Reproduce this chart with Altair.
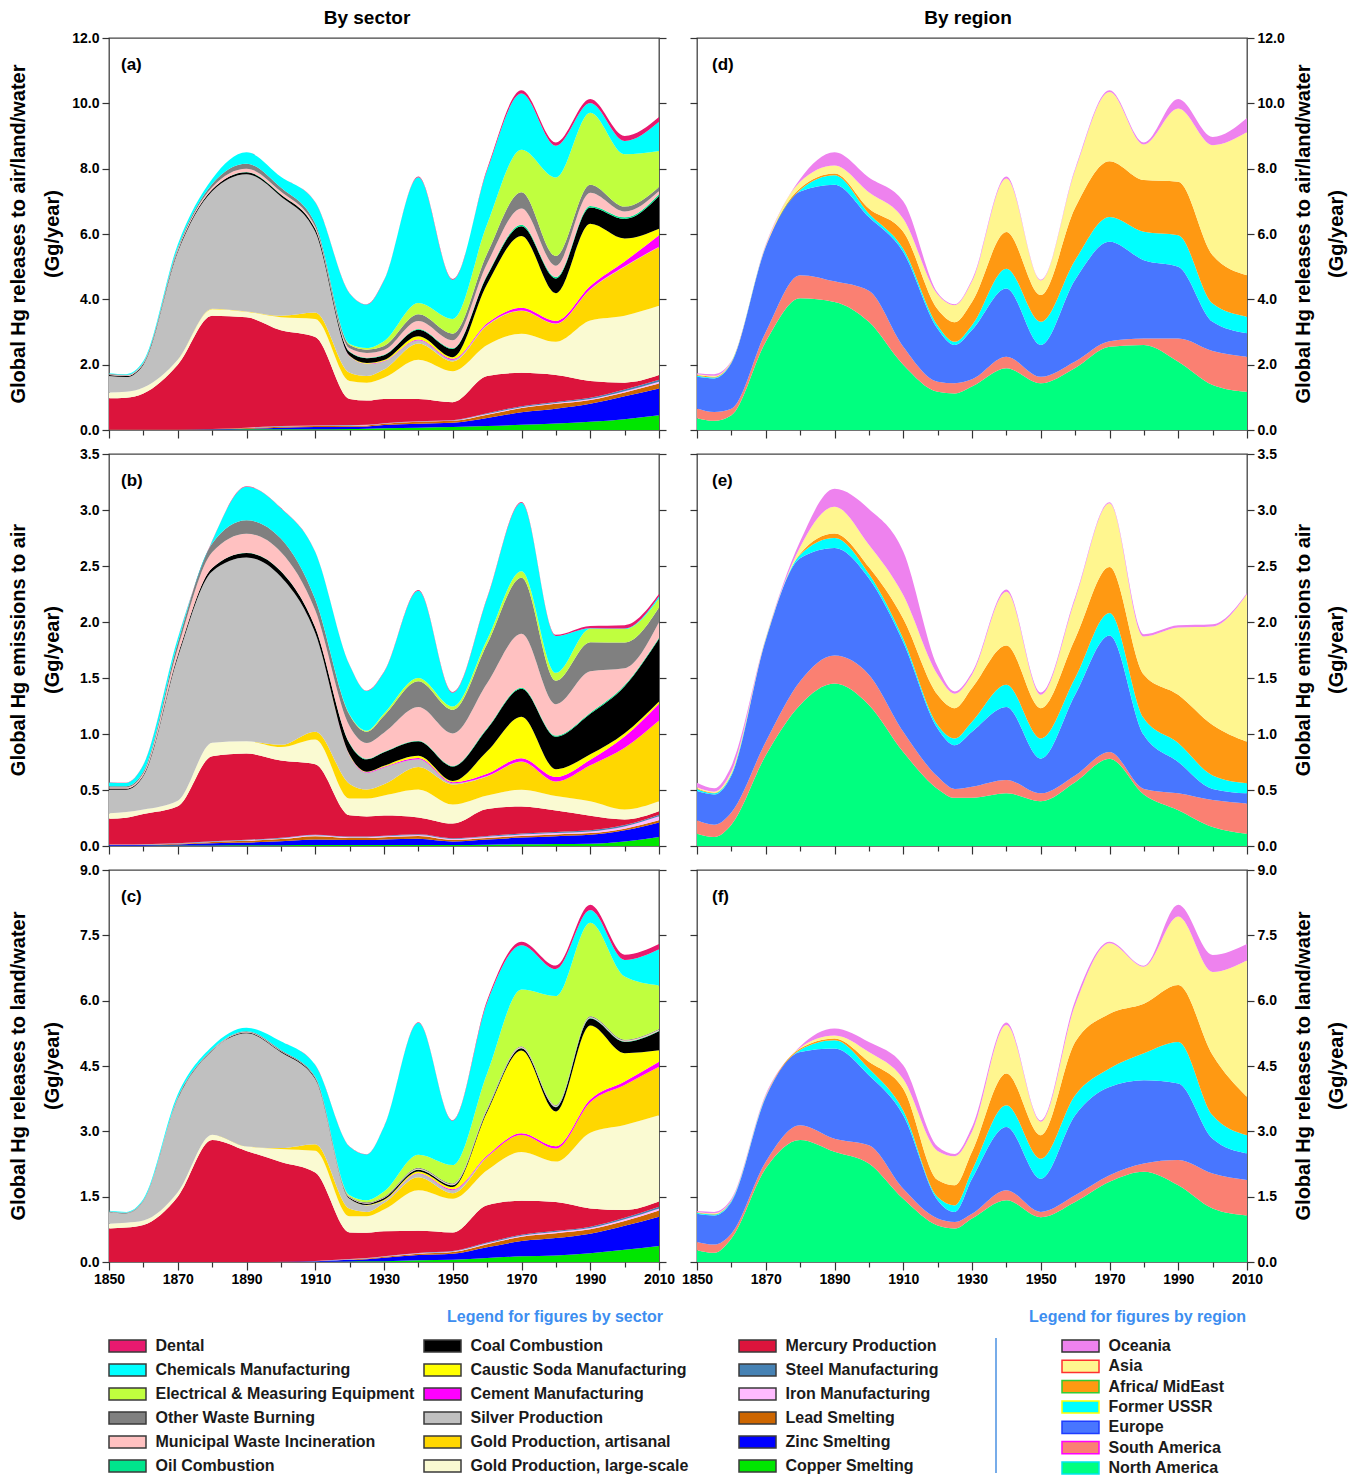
import altair as alt
import pandas as pd

FONT = "Liberation Sans"
YEARS = [1850, 1855, 1860, 1870, 1880, 1890, 1900, 1910, 1920, 1925, 1930,
         1940, 1950, 1960, 1970, 1980, 1990, 2000, 2010]

# ---- sector names (bottom of stack first) and colours ----
SECTORS = ["Copper Smelting", "Zinc Smelting", "Lead Smelting", "Iron Manufacturing",
           "Steel Manufacturing", "Mercury Production", "Gold Production, large-scale",
           "Gold Production, artisanal", "Silver Production", "Cement Manufacturing",
           "Caustic Soda Manufacturing", "Coal Combustion", "Oil Combustion",
           "Municipal Waste Incineration", "Other Waste Burning",
           "Electrical & Measuring Equipment", "Chemicals Manufacturing", "Dental"]
SECTOR_COLORS = ["#00e600", "#0000ff", "#cd6600", "#ffbbff", "#4682b4", "#dc143c",
                 "#fafad2", "#ffd700", "#c0c0c0", "#ff00ff", "#ffff00", "#000000",
                 "#00e58c", "#ffc1c1", "#808080", "#c0ff3e", "#00ffff", "#e8196f"]

# ---- region names (bottom of stack first) and colours ----
REGIONS = ["North America", "South America", "Europe", "Former USSR",
           "Africa/ MidEast", "Asia", "Oceania"]
REGION_COLORS = ["#00ff7f", "#fa8072", "#4876ff", "#00ffff", "#ff9912", "#fff68f", "#ee82ee"]
REGION_BORDERS = ["#00e5ee", "#ff00ff", "#1e3cff", "#ffff00", "#33cc33", "#ff3030", "#333333"]

# ---- panel (a): releases to air/land/water by sector (Gg/yr) ----
copper_a = [0.01,0.01,0.01,0.01,0.01,0.02,0.02,0.02,0.03,0.04,0.05,0.07,0.09,0.12,0.16,0.2,0.25,0.33,0.45]
zinc_a = [0,0,0,0,0.01,0.02,0.05,0.07,0.07,0.07,0.1,0.12,0.13,0.25,0.38,0.45,0.55,0.7,0.82]
lead_a = [0,0,0,0,0.01,0.02,0.03,0.03,0.03,0.03,0.04,0.06,0.06,0.1,0.13,0.15,0.12,0.12,0.15]
iron_a = [0,0,0,0,0,0.01,0.01,0.01,0.01,0.01,0.01,0.01,0.01,0.02,0.03,0.03,0.03,0.04,0.06]
steel_a = [0,0,0,0,0,0,0.01,0.01,0.01,0.01,0.01,0.01,0.01,0.02,0.03,0.03,0.04,0.05,0.06]
mercury_a = [0.96,0.98,1.11,1.99,3.47,3.38,2.93,2.71,0.8,0.74,0.74,0.68,0.55,1.14,1.02,0.82,0.51,0.21,0.14]
goldls_a = [0.18,0.18,0.18,0.15,0.2,0.17,0.4,0.55,0.55,0.55,0.65,1.2,0.95,0.95,1.2,1.02,1.85,2.05,2.12]
goldart_a = [0,0,0,0,0.01,0.01,0.05,0.2,0.25,0.2,0.25,0.5,0.3,0.6,0.7,0.55,0.95,1.5,1.8]
silver_a = [0.5,0.45,0.7,3.3,3.6,4.2,3.65,2.47,0.5,0.37,0.25,0.1,0.05,0.02,0.01,0.01,0.01,0.01,0.01]
cement_a = [0,0,0,0,0,0,0,0,0.01,0.01,0.01,0.02,0.03,0.05,0.08,0.08,0.1,0.15,0.35]
caustic_a = [0,0,0,0,0,0,0,0,0.01,0.02,0.03,0.1,0.05,1.2,2.2,0.85,1.9,0.7,0.2]
coal_a = [0.03,0.03,0.03,0.04,0.05,0.06,0.06,0.08,0.12,0.15,0.15,0.2,0.25,0.25,0.3,0.45,0.5,0.6,1.0]
oil_a = [0,0,0,0,0,0.01,0.01,0.01,0.01,0.01,0.01,0.02,0.02,0.03,0.04,0.04,0.05,0.05,0.06]
municipal_a = [0.02,0.02,0.02,0.04,0.07,0.1,0.08,0.06,0.1,0.15,0.15,0.25,0.25,0.35,0.5,0.35,0.4,0.18,0.1]
otherwaste_a = [0.02,0.02,0.02,0.05,0.1,0.15,0.12,0.1,0.1,0.1,0.12,0.2,0.2,0.3,0.5,0.3,0.25,0.15,0.12]
electrical_a = [0,0,0,0,0,0,0,0,0.03,0.05,0.15,0.35,0.45,0.9,1.3,2.4,2.2,1.6,1.1]
chemicals_a = [0.02,0.02,0.04,0.1,0.15,0.35,0.33,0.65,1.55,1.33,1.86,3.85,1.2,1.65,1.72,0.97,0.3,0.41,0.9]
dental_a = [0,0,0,0,0,0,0,0.01,0.01,0.01,0.01,0.02,0.02,0.05,0.1,0.1,0.12,0.15,0.14]

# ---- panel (b): emissions to air by sector ----
copper_b = [0.003,0.003,0.003,0.004,0.005,0.006,0.007,0.008,0.008,0.008,0.009,0.01,0.01,0.012,0.015,0.018,0.02,0.04,0.08]
zinc_b = [0.005,0.005,0.006,0.01,0.02,0.025,0.035,0.05,0.045,0.045,0.05,0.055,0.03,0.045,0.06,0.07,0.08,0.1,0.13]
lead_b = [0.002,0.002,0.003,0.005,0.01,0.015,0.02,0.03,0.02,0.02,0.02,0.025,0.015,0.015,0.015,0.015,0.015,0.015,0.02]
iron_b = [0.002,0.002,0.002,0.003,0.004,0.005,0.006,0.007,0.006,0.006,0.007,0.008,0.008,0.01,0.012,0.013,0.015,0.02,0.035]
steel_b = [0.001,0.001,0.001,0.002,0.003,0.004,0.005,0.006,0.005,0.005,0.006,0.007,0.007,0.008,0.01,0.01,0.01,0.012,0.015]
mercury_b = [0.23,0.24,0.27,0.33,0.76,0.77,0.69,0.63,0.19,0.18,0.18,0.15,0.13,0.24,0.24,0.19,0.13,0.05,0.03]
goldls_b = [0.05,0.05,0.04,0.05,0.12,0.11,0.12,0.22,0.15,0.16,0.18,0.25,0.17,0.12,0.15,0.13,0.13,0.09,0.09]
goldart_b = [0,0,0,0,0,0,0.02,0.07,0.13,0.08,0.1,0.2,0.18,0.17,0.25,0.13,0.32,0.55,0.72]
silver_b = [0.21,0.2,0.3,1.28,1.53,1.64,1.5,0.88,0.25,0.15,0.15,0.07,0.01,0.005,0.002,0,0,0,0]
cement_b = [0,0,0,0,0,0,0,0,0.005,0.005,0.005,0.01,0.01,0.02,0.03,0.04,0.05,0.1,0.15]
caustic_b = [0,0,0,0,0,0,0,0,0.005,0.005,0.01,0.02,0.01,0.2,0.37,0.07,0.05,0.03,0.02]
coal_b = [0.01,0.01,0.01,0.02,0.03,0.04,0.05,0.05,0.1,0.11,0.12,0.13,0.13,0.2,0.25,0.29,0.36,0.42,0.56]
oil_b = [0,0,0,0,0,0.003,0.003,0.003,0.005,0.005,0.005,0.005,0.005,0.008,0.01,0.01,0.01,0.01,0.01]
municipal_b = [0.01,0.01,0.015,0.06,0.14,0.17,0.17,0.15,0.15,0.14,0.17,0.3,0.29,0.4,0.48,0.28,0.37,0.15,0.14]
otherwaste_b = [0.01,0.01,0.015,0.05,0.08,0.12,0.12,0.1,0.1,0.1,0.15,0.23,0.21,0.35,0.5,0.21,0.26,0.23,0.13]
electrical_b = [0,0,0,0,0,0,0,0,0.005,0.01,0.02,0.03,0.03,0.04,0.06,0.07,0.12,0.12,0.08]
chemicals_b = [0.035,0.03,0.06,0.04,0.02,0.3,0.27,0.42,0.44,0.355,0.37,0.78,0.125,0.37,0.61,0.33,0.005,0.005,0.02]
dental_b = [0.002,0.002,0.002,0.002,0.003,0.003,0.003,0.003,0.003,0.003,0.003,0.005,0.005,0.005,0.008,0.01,0.02,0.03,0.02]

# ---- panel (c): releases to land/water by sector ----
copper_c = [0,0,0,0,0,0,0,0.005,0.01,0.015,0.02,0.04,0.05,0.09,0.13,0.15,0.2,0.28,0.37]
zinc_c = [0,0,0,0,0,0,0.005,0.01,0.04,0.05,0.08,0.12,0.14,0.25,0.35,0.4,0.45,0.55,0.67]
lead_c = [0,0,0,0,0,0,0.002,0.005,0.01,0.015,0.02,0.03,0.04,0.07,0.1,0.11,0.1,0.11,0.14]
iron_c = [0,0,0,0,0,0,0,0.002,0.005,0.005,0.008,0.01,0.01,0.02,0.025,0.03,0.03,0.04,0.05]
steel_c = [0,0,0,0,0,0,0,0.002,0.005,0.005,0.006,0.008,0.01,0.015,0.02,0.025,0.03,0.035,0.04]
mercury_c = [0.77,0.79,0.85,1.5,2.8,2.55,2.29,2.03,0.61,0.58,0.57,0.51,0.43,0.86,0.78,0.66,0.42,0.18,0.12]
goldls_c = [0.11,0.11,0.1,0.1,0.12,0.1,0.3,0.5,0.37,0.38,0.5,0.93,0.77,0.8,1.12,0.93,1.74,1.95,1.98]
goldart_c = [0,0,0,0,0,0,0.02,0.15,0.17,0.1,0.15,0.3,0.13,0.3,0.39,0.3,0.7,0.92,1.11]
silver_c = [0.27,0.22,0.45,2.15,1.93,2.6,2.2,1.5,0.23,0.15,0.05,0.08,0.07,0.01,0,0,0,0,0]
cement_c = [0,0,0,0,0,0,0,0,0,0,0.005,0.01,0.02,0.03,0.04,0.05,0.06,0.08,0.12]
caustic_c = [0,0,0,0,0,0,0,0,0.005,0.01,0.02,0.04,0.05,1.0,1.9,0.8,1.7,0.65,0.26]
coal_c = [0.005,0.005,0.005,0.01,0.01,0.02,0.02,0.02,0.02,0.03,0.04,0.04,0.04,0.04,0.05,0.1,0.16,0.26,0.44]
oil_c = [0,0,0,0,0,0,0,0,0,0,0,0.005,0.005,0.005,0.01,0.01,0.01,0.01,0.01]
municipal_c = [0.005,0.005,0.005,0.01,0.01,0.01,0.01,0.01,0.01,0.01,0.01,0.02,0.02,0.02,0.02,0.02,0.02,0.02,0.02]
otherwaste_c = [0.005,0.005,0.005,0.01,0.01,0.02,0.02,0.02,0.02,0.02,0.02,0.02,0.02,0.02,0.02,0.02,0.02,0.02,0.02]
electrical_c = [0,0,0,0,0,0,0,0,0.03,0.05,0.12,0.3,0.42,0.8,1.3,2.5,2.15,1.45,1.0]
chemicals_c = [0.01,0.015,0.03,0.07,0.07,0.08,0.2,0.27,1.11,1.05,1.485,3.03,1.02,1.63,1.02,0.62,0.29,0.38,0.83]
dental_c = [0,0,0,0,0,0,0,0.005,0.005,0.005,0.005,0.01,0.01,0.05,0.08,0.08,0.12,0.12,0.12]

# ---- panel (d): releases to air/land/water by region ----
na_d = [0.36,0.28,0.45,2.7,4.03,3.92,3.31,2.0,1.17,1.12,1.33,1.89,1.43,1.9,2.55,2.6,2.09,1.38,1.17]
sa_d = [0.3,0.27,0.2,0.3,0.71,0.63,0.95,0.55,0.31,0.31,0.22,0.35,0.2,0.2,0.17,0.2,0.71,1.04,1.07]
eu_d = [0.97,1.03,1.4,2.6,2.56,2.96,2.26,2.9,1.62,1.17,1.51,2.09,0.97,2.5,3.04,2.4,2.2,0.89,0.72]
ussr_d = [0.03,0.03,0.02,0.02,0.05,0.29,0.11,0.1,0.1,0.1,0.15,0.61,0.71,0.6,0.76,0.87,0.96,0.56,0.51]
af_d = [0.02,0.02,0.01,0.01,0.05,0.05,0.15,0.52,0.5,0.6,0.71,1.12,0.82,1.6,1.71,1.58,1.64,1.48,1.27]
asia_d = [0.03,0.03,0.02,0.02,0.2,0.25,0.5,0.4,0.45,0.52,0.63,1.64,0.45,1.15,2.12,1.09,2.24,3.37,4.38]
oc_d = [0.03,0.05,0.01,0.03,0.08,0.4,0.45,0.53,0.05,0.03,0.05,0.06,0.02,0.05,0.05,0.06,0.29,0.25,0.43]

# ---- panel (e): emissions to air by region ----
na_e = [0.11,0.08,0.19,0.81,1.26,1.45,1.26,0.84,0.51,0.43,0.43,0.47,0.4,0.57,0.78,0.46,0.32,0.17,0.11]
sa_e = [0.12,0.11,0.11,0.12,0.21,0.25,0.27,0.18,0.11,0.08,0.1,0.12,0.07,0.06,0.06,0.05,0.15,0.24,0.27]
eu_e = [0.26,0.27,0.33,0.91,1.1,0.96,0.86,0.8,0.43,0.39,0.49,0.65,0.31,0.72,1.04,0.48,0.28,0.1,0.09]
ussr_e = [0.02,0.01,0.01,0.005,0.03,0.09,0.04,0.03,0.03,0.06,0.09,0.2,0.18,0.15,0.2,0.15,0.17,0.12,0.09]
af_e = [0.005,0.005,0.005,0.005,0.01,0.04,0.06,0.18,0.27,0.27,0.3,0.35,0.27,0.35,0.41,0.39,0.43,0.45,0.37]
asia_e = [0.01,0.01,0.02,0.005,0.06,0.24,0.2,0.21,0.18,0.13,0.12,0.48,0.12,0.35,0.57,0.34,0.6,0.88,1.32]
oc_e = [0.04,0.03,0.05,0.005,0.05,0.16,0.32,0.39,0.07,0.02,0.02,0.02,0.02,0.02,0.01,0.02,0.02,0.02,0.01]

# ---- panel (f): releases to land/water by region ----
na_f = [0.27,0.21,0.54,2.15,2.8,2.53,2.26,1.45,0.84,0.77,1.0,1.42,1.03,1.38,1.84,2.07,1.76,1.23,1.07]
sa_f = [0.19,0.19,0.11,0.15,0.34,0.3,0.42,0.23,0.16,0.15,0.11,0.23,0.12,0.15,0.15,0.19,0.58,0.8,0.81]
eu_f = [0.65,0.67,0.73,1.48,1.68,2.07,1.61,1.69,0.42,0.23,0.8,1.45,0.76,1.84,2.03,1.91,1.76,0.8,0.61]
ussr_f = [0.02,0.02,0.02,0.02,0.05,0.19,0.15,0.11,0.07,0.15,0.19,0.5,0.46,0.46,0.42,0.62,0.95,0.54,0.42]
af_f = [0.01,0.01,0.01,0.01,0.03,0.04,0.16,0.5,0.39,0.46,0.43,0.73,0.54,1.22,1.26,1.14,1.31,1.38,0.88]
asia_f = [0.01,0.02,0.01,0.01,0.02,0.07,0.22,0.22,0.67,0.67,0.46,1.11,0.31,0.85,1.62,0.85,1.57,1.91,3.14]
oc_f = [0.02,0.03,0.03,0.03,0.03,0.16,0.23,0.32,0.1,0.05,0.11,0.06,0.03,0.1,0.03,0.02,0.27,0.39,0.37]

SERIES_A = [copper_a, zinc_a, lead_a, iron_a, steel_a, mercury_a, goldls_a, goldart_a, silver_a,
            cement_a, caustic_a, coal_a, oil_a, municipal_a, otherwaste_a, electrical_a, chemicals_a, dental_a]
SERIES_B = [copper_b, zinc_b, lead_b, iron_b, steel_b, mercury_b, goldls_b, goldart_b, silver_b,
            cement_b, caustic_b, coal_b, oil_b, municipal_b, otherwaste_b, electrical_b, chemicals_b, dental_b]
SERIES_C = [copper_c, zinc_c, lead_c, iron_c, steel_c, mercury_c, goldls_c, goldart_c, silver_c,
            cement_c, caustic_c, coal_c, oil_c, municipal_c, otherwaste_c, electrical_c, chemicals_c, dental_c]
SERIES_D = [na_d, sa_d, eu_d, ussr_d, af_d, asia_d, oc_d]
SERIES_E = [na_e, sa_e, eu_e, ussr_e, af_e, asia_e, oc_e]
SERIES_F = [na_f, sa_f, eu_f, ussr_f, af_f, asia_f, oc_f]

TITLE_A = ["Global Hg releases to air/land/water", "(Gg/year)"]
TITLE_B = ["Global Hg emissions to air", "(Gg/year)"]
TITLE_C = ["Global Hg releases to land/water", "(Gg/year)"]
TICKS_A = [0, 2, 4, 6, 8, 10, 12]
TICKS_B = [0, 0.5, 1, 1.5, 2, 2.5, 3, 3.5]
TICKS_C = [0, 1.5, 3, 4.5, 6, 7.5, 9]
XTICKS = list(range(1850, 2011, 10))


def long_df(names, series):
    rows = []
    for k, (n, s) in enumerate(zip(names, series)):
        for yr, v in zip(YEARS, s):
            rows.append({"year": yr, "series": n, "value": v, "order": k})
    return pd.DataFrame(rows)


PW, PH = 550, 392


def x_axis(show):
    return alt.Axis(values=XTICKS, format="d", labels=show, labelFontSize=14,
                    labelFontWeight="bold", labelColor="black", labelFlush=False,
                    labelOverlap=False, labelPadding=2,
                    labelExpr="datum.value % 20 == 10 ? datum.label : ''",
                    tickColor="#333333", tickWidth=1.2,
                    tickSize={"condition": {"test": "datum.value % 20 == 10", "value": 8}, "value": 5},
                    domain=False, grid=False, title=None)


def y_main(side, ticks):
    return alt.Axis(orient=side, values=ticks, format=".1f", labelFontSize=14, labelFontWeight="bold",
                    labelColor="black", labelPadding=3, tickSize=7, tickColor="#333333",
                    tickWidth=1.2, domain=False, grid=False, title=None)


def y_mirror(side, ticks):
    return alt.Axis(orient=side, values=ticks, labels=False, tickSize=7, tickColor="#333333",
                    tickWidth=1.2, domain=False, grid=False, title=None)


ONE = pd.DataFrame({"k": [0]})


def vtext(txt, xpos):
    return alt.Chart(ONE).mark_text(angle=270, align="center", baseline="middle", fontSize=20,
                                    fontWeight="bold", color="black").encode(
        x=alt.value(xpos), y=alt.value(PH / 2), text=alt.value(txt))


def panel(df, names, colors, ymax, ticks, side, title, tag, show_x, top_title=None, title_dx=0):
    xs = alt.Scale(domain=[1850, 2010], nice=False, zero=False)
    ys = alt.Scale(domain=[0, ymax], nice=False, zero=True)
    area = alt.Chart(df).mark_area(interpolate="monotone").encode(
        x=alt.X("year:Q", scale=xs, axis=x_axis(show_x)),
        y=alt.Y("value:Q", stack="zero", scale=ys, axis=y_main(side, ticks)),
        color=alt.Color("series:N", scale=alt.Scale(domain=names, range=colors), legend=None),
        order=alt.Order("order:Q", sort="ascending"),
    )
    mirror = alt.Chart(df).mark_point(opacity=0).encode(
        x=alt.X("year:Q", scale=xs, axis=x_axis(show_x)),
        y=alt.Y("value:Q", scale=ys, axis=y_mirror("right" if side == "left" else "left", ticks)),
    )
    lab = alt.Chart(ONE).mark_text(
        align="left", baseline="middle", fontSize=17, fontWeight="bold", color="black"
    ).encode(text=alt.value(tag), x=alt.value(12 if side == "left" else 15), y=alt.value(27))
    if side == "left":
        t1, t2 = vtext(title[0], -90), vtext(title[1], -56)
    else:
        t1, t2 = vtext(title[0], PW + 57), vtext(title[1], PW + 90)
    layers = [area, mirror, lab, t1, t2]
    if top_title:
        layers.append(alt.Chart(ONE).mark_text(align="center", baseline="middle", fontSize=19,
                                               fontWeight="bold", color="black").encode(
            x=alt.value(PW / 2 + title_dx), y=alt.value(-20), text=alt.value(top_title)))
    return alt.layer(*layers).resolve_axis(y="independent").properties(width=PW, height=PH)


pa = panel(long_df(SECTORS, SERIES_A), SECTORS, SECTOR_COLORS, 12, TICKS_A, "left", TITLE_A, "(a)", False, "By sector", -17)
pb = panel(long_df(SECTORS, SERIES_B), SECTORS, SECTOR_COLORS, 3.5, TICKS_B, "left", TITLE_B, "(b)", False)
pc = panel(long_df(SECTORS, SERIES_C), SECTORS, SECTOR_COLORS, 9, TICKS_C, "left", TITLE_C, "(c)", True)
pd_ = panel(long_df(REGIONS, SERIES_D), REGIONS, REGION_COLORS, 12, TICKS_A, "right", TITLE_A, "(d)", False, "By region", -4)
pe = panel(long_df(REGIONS, SERIES_E), REGIONS, REGION_COLORS, 3.5, TICKS_B, "right", TITLE_B, "(e)", False)
pf = panel(long_df(REGIONS, SERIES_F), REGIONS, REGION_COLORS, 9, TICKS_C, "right", TITLE_C, "(f)", True)

grid = alt.concat(pa, pd_, pb, pe, pc, pf, columns=2, spacing={"row": 6, "column": 4},
                  align="each").resolve_scale(color="independent", y="independent")

# ---- custom legend ----
SECTOR_LEGEND = list(reversed(SECTORS))
SECTOR_LEGEND_COLORS = list(reversed(SECTOR_COLORS))
REGION_LEGEND = list(reversed(REGIONS))
REGION_LEGEND_COLORS = list(reversed(REGION_COLORS))
REGION_LEGEND_BORDERS = list(reversed(REGION_BORDERS))

sec_df = pd.DataFrame({"name": SECTOR_LEGEND,
                       "col": [i // 6 for i in range(len(SECTOR_LEGEND))],
                       "row": [i % 6 for i in range(len(SECTOR_LEGEND))]})
reg_df = pd.DataFrame({"name": REGION_LEGEND,
                       "col": [3] * len(REGION_LEGEND),
                       "row": list(range(len(REGION_LEGEND)))})
LW, LH = 2 * PW + 39, 176
lx = alt.Scale(domain=[0, 3], range=[18.5, 963.5])
sec_y = alt.Scale(domain=[0, 5], range=[49, 169])
reg_y = alt.Scale(domain=[0, 6], range=[49, 171])
RECT = "M-1,-0.33L1,-0.33L1,0.33L-1,0.33Z"
LEG_FS = 16

sec_sw = alt.Chart(sec_df).mark_point(shape=RECT, size=1369, filled=True, opacity=1,
                                      stroke="#3a3a3a", strokeWidth=1.5).encode(
    x=alt.X("col:Q", scale=lx, axis=None),
    y=alt.Y("row:Q", scale=sec_y, axis=None),
    fill=alt.Fill("name:N", scale=alt.Scale(domain=SECTOR_LEGEND, range=SECTOR_LEGEND_COLORS), legend=None),
)
sec_tx = alt.Chart(sec_df).mark_text(align="left", baseline="middle", dx=28, fontSize=LEG_FS,
                                     fontWeight="bold", color="#1a1a1a").encode(
    x=alt.X("col:Q", scale=lx, axis=None),
    y=alt.Y("row:Q", scale=sec_y, axis=None),
    text="name:N",
)
reg_sw = alt.Chart(reg_df).mark_point(shape=RECT, size=1369, filled=True, opacity=1,
                                      strokeWidth=1.5, xOffset=8).encode(
    x=alt.X("col:Q", scale=lx, axis=None),
    y=alt.Y("row:Q", scale=reg_y, axis=None),
    fill=alt.Fill("name:N", scale=alt.Scale(domain=REGION_LEGEND, range=REGION_LEGEND_COLORS), legend=None),
    stroke=alt.Stroke("name:N", scale=alt.Scale(domain=REGION_LEGEND, range=REGION_LEGEND_BORDERS), legend=None),
)
reg_tx = alt.Chart(reg_df).mark_text(align="left", baseline="middle", dx=36, fontSize=LEG_FS,
                                     fontWeight="bold", color="#1a1a1a").encode(
    x=alt.X("col:Q", scale=lx, axis=None),
    y=alt.Y("row:Q", scale=reg_y, axis=None),
    text="name:N",
)
divider = alt.Chart(ONE).mark_rule(color="#4a90e2", strokeWidth=1.5).encode(
    x=alt.value(887), y=alt.value(41), y2=alt.value(176))
t_sec = alt.Chart(ONE).mark_text(align="right", baseline="middle", fontSize=LEG_FS, fontWeight="bold",
                                 color="#3d8ef0").encode(
    x=alt.value(554), y=alt.value(20), text=alt.value("Legend for figures by sector"))
t_reg = alt.Chart(ONE).mark_text(align="right", baseline="middle", fontSize=LEG_FS, fontWeight="bold",
                                 color="#3d8ef0").encode(
    x=alt.value(1137), y=alt.value(20), text=alt.value("Legend for figures by region"))

legend = alt.layer(sec_sw, sec_tx, reg_sw, reg_tx, divider, t_sec, t_reg).resolve_scale(
    y="independent", fill="independent"
).properties(width=LW, height=LH, view=alt.ViewBackground(strokeWidth=0, fill="white"))

chart = alt.vconcat(grid, legend, spacing=10).resolve_scale(color="independent").properties(
    padding={"left": 0, "top": 0, "right": 0, "bottom": 0}, background="white"
).configure(font=FONT).configure_view(stroke="#444444", strokeWidth=1.3)

chart.save("out.html", embed_options={"renderer": "svg", "actions": False})
